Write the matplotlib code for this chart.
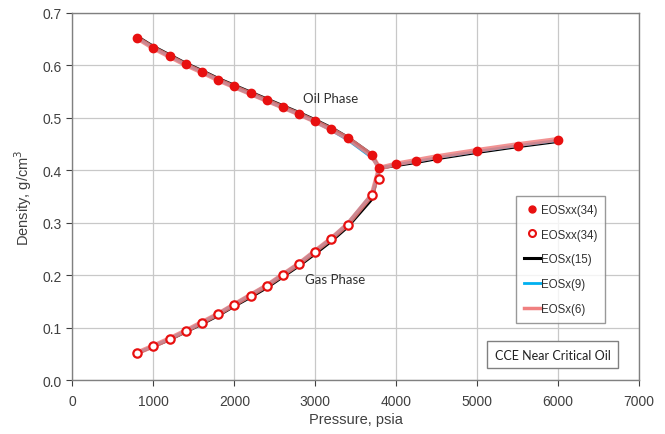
import matplotlib
matplotlib.use("Agg")
from matplotlib import pyplot as plt
from matplotlib.lines import Line2D
import numpy as np

plt.rcParams['font.family'] = ['Liberation Sans', 'DejaVu Sans']

# measured points, EOSxx(34)
oil_p = [800, 1000, 1200, 1400, 1600, 1800, 2000, 2200, 2400, 2600, 2800, 3000,
         3200, 3400, 3700, 3790, 4000, 4250, 4500, 5000, 5500, 6000]
oil_rho = [0.653, 0.634, 0.618, 0.602, 0.588, 0.573, 0.560, 0.547, 0.534, 0.521,
           0.508, 0.494, 0.479, 0.462, 0.429, 0.404, 0.411, 0.417, 0.424, 0.436,
           0.447, 0.457]
gas_p = [800, 1000, 1200, 1400, 1600, 1800, 2000, 2200, 2400, 2600, 2800, 3000,
         3200, 3400, 3700, 3790]
gas_rho = [0.051, 0.064, 0.078, 0.093, 0.109, 0.125, 0.143, 0.161, 0.179, 0.200,
           0.221, 0.245, 0.269, 0.296, 0.352, 0.384]

# model lines
eos15_oil = [0.655, 0.636, 0.620, 0.604, 0.590, 0.575, 0.562, 0.549, 0.536, 0.523,
             0.510, 0.496, 0.481, 0.463, 0.430, 0.404, 0.409, 0.415, 0.422, 0.434,
             0.445, 0.455]
eos15_gas = [0.051, 0.064, 0.077, 0.092, 0.107, 0.123, 0.141, 0.158, 0.176, 0.197,
             0.218, 0.241, 0.265, 0.292, 0.345, 0.404]
eos9_oil = [0.652, 0.633, 0.617, 0.601, 0.587, 0.572, 0.558, 0.545, 0.532, 0.519,
            0.506, 0.492, 0.476, 0.458, 0.424, 0.404, 0.411, 0.417, 0.424, 0.436,
            0.447, 0.457]
eos9_gas = [0.052, 0.065, 0.079, 0.094, 0.110, 0.127, 0.145, 0.163, 0.181, 0.202,
            0.223, 0.247, 0.271, 0.299, 0.355, 0.404]
eos6_oil = [0.652, 0.633, 0.617, 0.601, 0.587, 0.572, 0.559, 0.546, 0.533, 0.520,
            0.507, 0.493, 0.478, 0.461, 0.428, 0.404, 0.412, 0.419, 0.426, 0.438,
            0.449, 0.459]
eos6_gas = [0.052, 0.065, 0.079, 0.094, 0.110, 0.126, 0.144, 0.162, 0.180, 0.201,
            0.222, 0.246, 0.270, 0.297, 0.353, 0.404]

fig = plt.figure(figsize=(6.65, 4.35), dpi=100)
ax = fig.add_axes([0.109, 0.124, 0.852, 0.844])

ax.plot(oil_p, eos15_oil, '-', color='black', lw=2.2, zorder=2)
ax.plot(gas_p, eos15_gas, '-', color='black', lw=2.2, zorder=2)
ax.plot(oil_p, eos9_oil, '-', color='#00B0F0', lw=2, zorder=2)
ax.plot(gas_p, eos9_gas, '-', color='#00B0F0', lw=2, zorder=2)
ax.plot(oil_p, eos6_oil, '-', color='#F08080', lw=3.5, alpha=0.85, zorder=3)
ax.plot(gas_p, eos6_gas, '-', color='#F08080', lw=3.5, alpha=0.85, zorder=3)

ax.plot(oil_p, oil_rho, 'o', color='#E81010', ms=6, zorder=4)
ax.plot(gas_p, gas_rho, 'o', mfc='white', mec='#E81010', mew=1.6, ms=6, zorder=4)

ax.set_xlim(0, 7000)
ax.set_ylim(0, 0.7)
ax.set_xticks(np.arange(0, 7001, 1000))
ax.set_yticks(np.arange(0, 0.71, 0.1))
ax.set_yticklabels([f'{v:.1f}' for v in np.arange(0, 0.71, 0.1)])
ax.tick_params(labelsize=10, colors='#404040', length=4, width=0.8)
ax.tick_params(axis='x', pad=6)
ax.grid(True, color='#C8C8C8', lw=0.9)
for s in ax.spines.values():
    s.set_color('#808080')
    s.set_linewidth(1.0)

ax.set_xlabel('Pressure, psia', fontsize=10.5, color='#404040', labelpad=3)
ax.set_ylabel('Density, g/cm$^3$', fontsize=10.5, color='#404040', labelpad=6)

ax.text(3190, 0.537, 'Oil Phase', fontsize=9.5, family=['Lato', 'DejaVu Sans'],
        color='#303030', ha='center', va='center')
ax.text(3240, 0.193, 'Gas Phase', fontsize=9.5, family=['Lato', 'DejaVu Sans'],
        color='#303030', ha='center', va='center')

handles = [
    Line2D([], [], ls='none', marker='o', color='#E81010', ms=5),
    Line2D([], [], ls='none', marker='o', mfc='white', mec='#E81010', mew=1.5, ms=5),
    Line2D([], [], color='black', lw=2.2),
    Line2D([], [], color='#00B0F0', lw=2),
    Line2D([], [], color='#F08080', lw=2.5),
]
labels = ['EOSxx(34)', 'EOSxx(34)', 'EOSx(15)', 'EOSx(9)', 'EOSx(6)']
leg = ax.legend(handles, labels, loc='upper left', bbox_to_anchor=(0.783, 0.501),
                fontsize=8.3, labelspacing=1.12, handlelength=1.5, handletextpad=0.05,
                frameon=True, fancybox=False, edgecolor='#808080', borderpad=0.65,
                borderaxespad=0)
leg.get_frame().set_linewidth(1.0)
for t in leg.get_texts():
    t.set_color('#303030')

ax.text(5930, 0.048, 'CCE Near Critical Oil', fontsize=9, family=['Lato', 'DejaVu Sans'],
        color='#202020', ha='center', va='center',
        bbox=dict(boxstyle='square,pad=0.6', fc='white', ec='#808080', lw=1.0))

fig.savefig('out.png', dpi=100)
